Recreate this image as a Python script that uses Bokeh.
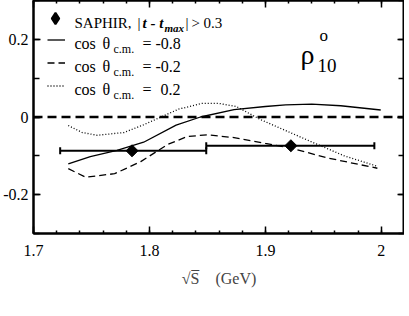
import math
from bokeh.plotting import figure
from bokeh.models import (Range1d, FixedTicker, LinearAxis, Span, Whisker, ColumnDataSource,
                          Label, Legend, LegendItem, TeeHead)
from bokeh.embed import file_html
from bokeh.resources import INLINE

FONT = "'Liberation Serif', 'Times New Roman', serif"

# ---- data ----
saphir_w = [1.785, 1.922]
saphir_rho = [-0.087, -0.074]
saphir_w_lo = [1.723, 1.849]
saphir_w_hi = [1.849, 1.994]

w_m08 = [1.730, 1.749, 1.772, 1.795, 1.823, 1.844, 1.873, 1.900, 1.9175, 1.940, 1.965, 1.9995]
rho_m08 = [-0.121, -0.102, -0.086, -0.065, -0.021, 0.000, 0.019, 0.027, 0.031, 0.033, 0.029, 0.018]

w_m02 = [1.730, 1.745, 1.770, 1.7925, 1.8155, 1.833, 1.850, 1.873, 1.900, 1.922, 1.953, 1.9966]
rho_m02 = [-0.133, -0.155, -0.146, -0.115, -0.071, -0.050, -0.046, -0.053, -0.068, -0.080, -0.105, -0.132]

w_p02 = [1.730, 1.742, 1.755, 1.778, 1.795, 1.810, 1.825, 1.845, 1.860, 1.875, 1.896, 1.9175, 1.939, 1.968, 1.9966]
rho_p02 = [-0.022, -0.040, -0.047, -0.040, -0.020, 0.000, 0.020, 0.035, 0.035, 0.027, -0.007, -0.035, -0.063, -0.100, -0.127]

x_ticks = [1.7, 1.8, 1.9, 2.0]
x_tick_labels = ["1.7", "1.8", "1.9", "2"]
x_minor = [round(1.7 + 0.02 * i, 2) for i in range(17)]
y_ticks = [-0.2, 0.0, 0.2]
y_tick_labels = ["-0.2", "0", "0.2"]
y_minor = [-0.3, -0.2, -0.1, 0.0, 0.1, 0.2, 0.3]

p = figure(frame_width=371, frame_height=233,
           x_range=Range1d(1.7, 2.02), y_range=Range1d(-0.3, 0.3),
           output_backend="svg", toolbar_location=None,
           min_border_left=0, min_border_right=0, min_border_top=0, min_border_bottom=0)
p.grid.visible = False
p.outline_line_color = "black"
p.outline_line_width = 2
p.background_fill_color = "white"
p.border_fill_color = "white"

p.add_layout(LinearAxis(), "above")
p.add_layout(LinearAxis(), "right")

for ax in p.xaxis:
    ax.ticker = FixedTicker(ticks=x_ticks, minor_ticks=x_minor)
for ax in p.yaxis:
    ax.ticker = FixedTicker(ticks=y_ticks, minor_ticks=y_minor)

for ax in p.axis:
    ax.axis_line_width = 2
    ax.axis_line_color = "black"
    ax.major_tick_in = 7
    ax.major_tick_out = 0
    ax.minor_tick_in = 3
    ax.minor_tick_out = 0
    ax.major_tick_line_width = 1.5
    ax.minor_tick_line_width = 1.5
    ax.major_label_text_font = FONT
    ax.major_label_text_font_size = "16px"
    ax.major_label_text_color = "black"

for ax in p.yaxis:
    ax.minor_tick_in = 6

# bottom / left labelled axes
xb = p.below[0]
xb.major_label_overrides = dict(zip(x_ticks, x_tick_labels))
xb.major_label_standoff = 11
xb.axis_label = "\u221aS\u0305\u2003(GeV)"
xb.axis_label_text_font = FONT
xb.axis_label_text_font_size = "16px"
xb.axis_label_text_font_style = "normal"
xb.axis_label_standoff = 11

yl = p.left[0]
yl.major_label_overrides = dict(zip(y_ticks, y_tick_labels))
yl.major_label_standoff = 5

# top / right axes: ticks only
p.above[0].major_label_overrides = {t: "" for t in x_ticks}
p.right[0].major_label_overrides = {t: "" for t in y_ticks}
for ax in (p.above[0], p.right[0]):
    ax.major_label_text_font_size = "1px"
    ax.major_label_standoff = 0

# zero line
p.add_layout(Span(location=0, dimension="width", line_color="black",
                  line_width=2.5, line_dash="9 5"))

# curves
r_m08 = p.line(w_m08, rho_m08, line_color="black", line_width=1.3)
r_m02 = p.line(w_m02, rho_m02, line_color="black", line_width=1.3, line_dash="7 4")
r_p02 = p.line(w_p02, rho_p02, line_color="black", line_width=1.3, line_dash="1 2")

# SAPHIR points
src = ColumnDataSource(dict(w=saphir_w, rho=saphir_rho, lo=saphir_w_lo, hi=saphir_w_hi))
p.add_layout(Whisker(base="rho", lower="lo", upper="hi", dimension="width", source=src,
                     line_color="black", line_width=2,
                     upper_head=TeeHead(size=7, line_width=2, line_color="black"),
                     lower_head=TeeHead(size=7, line_width=2, line_color="black")))
# legend key renderer (diamond), hidden under the rotated squares
r_key = p.scatter("w", "rho", source=src, marker="diamond", size=5,
                  fill_color="black", line_color="black", line_width=2)
r_pts = p.scatter("w", "rho", source=src, marker="square", size=8.5, angle=math.pi / 4,
                  fill_color="black", line_color="black")

# legends (glyph keys only, text drawn with labels)
leg1 = Legend(items=[LegendItem(label="", renderers=[r_key])], location=(8, 201),
              glyph_width=28, glyph_height=28, label_height=28, label_width=0,
              label_standoff=0, padding=0, margin=0, spacing=0,
              border_line_color=None, background_fill_alpha=0, label_text_font_size="1px")
leg2 = Legend(items=[LegendItem(label="", renderers=[r_m08]),
                     LegendItem(label="", renderers=[r_m02]),
                     LegendItem(label="", renderers=[r_p02])],
              location=(14, 136), glyph_width=18, glyph_height=23, label_height=23,
              label_width=0, label_standoff=0, padding=0, margin=0, spacing=0,
              border_line_color=None, background_fill_alpha=0, label_text_font_size="1px")
p.add_layout(leg1, "center")
p.add_layout(leg2, "center")


def lab(x, y, text, size="15px", style="normal"):
    p.add_layout(Label(x=x, y=y, x_units="screen", y_units="screen", text=text,
                       text_font=FONT, text_font_size=size, text_font_style=style,
                       text_color="black", text_baseline="alphabetic", text_align="left"))


# row 1
lab(41, 211, "SAPHIR,")
lab(104, 211, "|")
lab(109, 211, "t - t", style="bold italic")
lab(131, 206, "max", size="11px", style="bold italic")
lab(152, 211, "|")
lab(158, 211, ">")
lab(170, 211, "0.3")
# rows 2-4
for yb, val in ((190, "= -0.8"), (167, "= -0.2")):
    lab(41, yb, "cos", size="16px")
    lab(69, yb, "\u03b8", size="16px")
    lab(80, yb - 5, "c.m.", size="12px")
    lab(109, yb, val, size="16px")
lab(41, 144, "cos", size="16px")
lab(69, 144, "\u03b8", size="16px")
lab(80, 139, "c.m.", size="12px")
lab(109, 144, "=", size="16px")
lab(127, 144, "0.2", size="16px")

# rho label
lab(267, 179, "\u03c1", size="28px")
lab(286, 198, "o", size="17px")
lab(284, 168, "10", size="19px")

open("out.html", "w").write(file_html(p, INLINE))
